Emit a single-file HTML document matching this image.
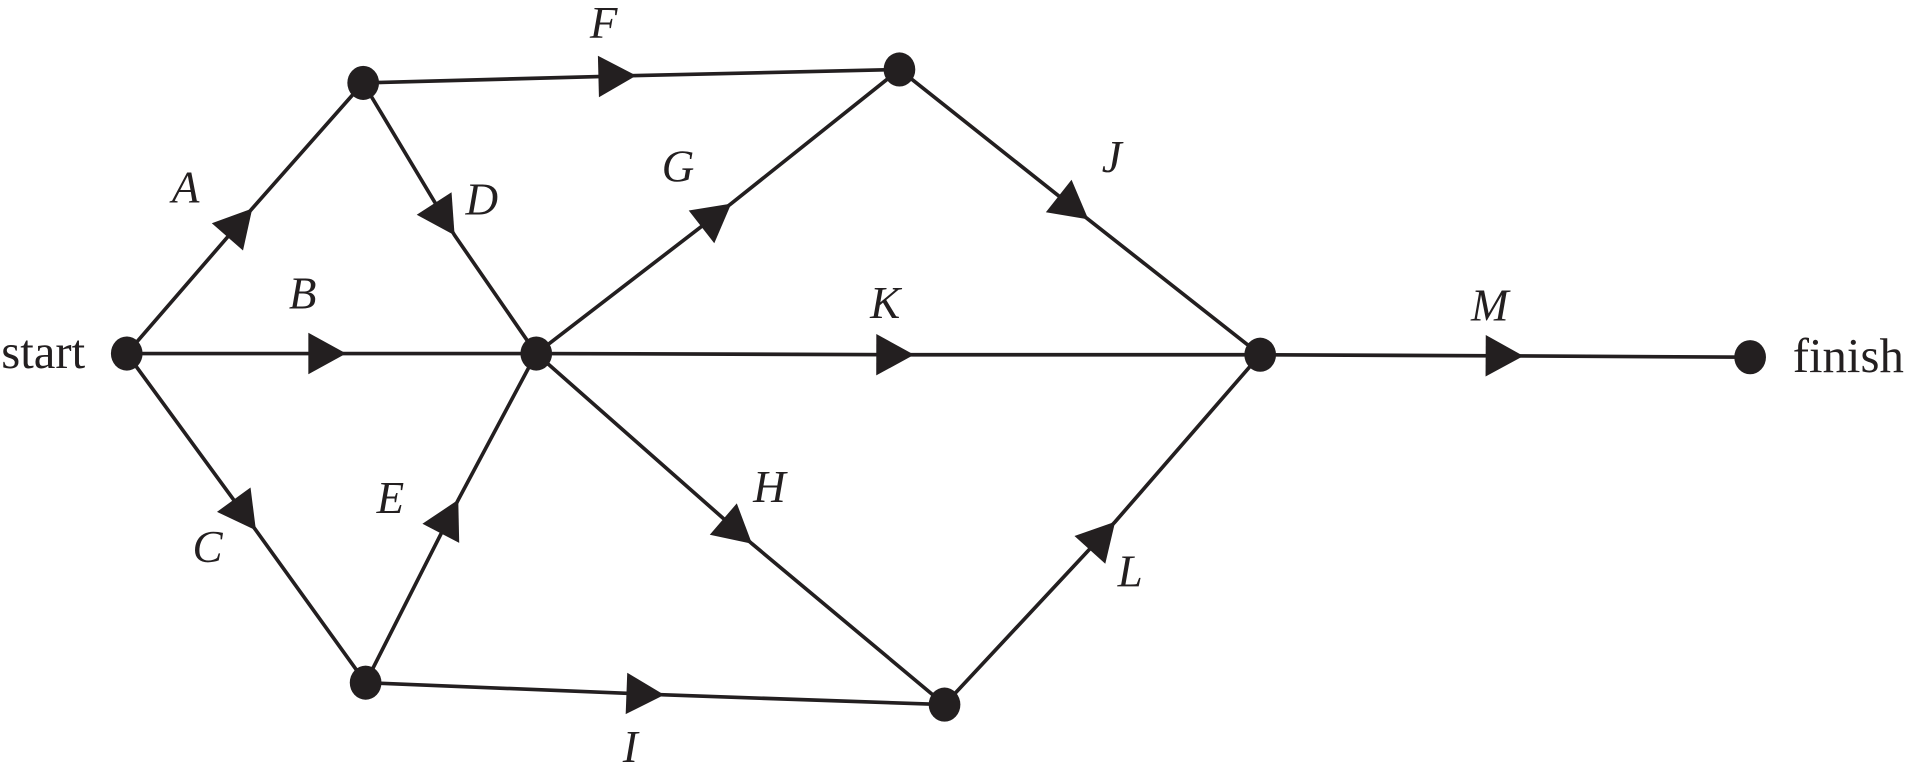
<!DOCTYPE html>
<html><head><meta charset="utf-8"><style>
html,body{margin:0;padding:0;background:#fff;}
svg{display:block;}
text{font-family:"Liberation Serif",serif;font-size:40px;fill:#231f20;}
.l{font-style:italic;font-size:37px;}
</style></head><body>
<svg width="1911" height="768" viewBox="0 0 1568 630" preserveAspectRatio="none">
<defs>
<marker id="a" markerUnits="userSpaceOnUse" markerWidth="40" markerHeight="40" viewBox="-35 -20 40 40" refX="0" refY="0" orient="auto">
<path d="M-31,-17 L0,0 L-31,17 z" fill="#231f20"/>
</marker>
</defs>
<g stroke="#231f20" stroke-width="3" fill="none" marker-mid="url(#a)">
<path d="M104,290 L207,171 L298,68"/>
<path d="M104,290 L284,290 L440,290"/>
<path d="M104,290 L210,435 L300,560"/>
<path d="M298,68 L373,193 L440,290"/>
<path d="M300,560 L376,410 L440,290"/>
<path d="M298,68 L522,62 L738,57"/>
<path d="M440,290 L600,167 L738,57"/>
<path d="M440,290 L617,446 L775,578"/>
<path d="M300,560 L545,570 L775,578"/>
<path d="M738,57 L893,180 L1034,291"/>
<path d="M440,290 L750,291 L1034,291"/>
<path d="M775,578 L915,428 L1034,291"/>
<path d="M1034,291 L1250,292 L1436,293"/>
</g>
<g fill="#231f20">
<ellipse cx="104" cy="290" rx="13" ry="14"/>
<ellipse cx="298" cy="68" rx="13" ry="14"/>
<ellipse cx="738" cy="57" rx="13" ry="14"/>
<ellipse cx="440" cy="290" rx="13" ry="14"/>
<ellipse cx="1034" cy="291" rx="13" ry="14"/>
<ellipse cx="1436" cy="293" rx="13" ry="14"/>
<ellipse cx="300" cy="560" rx="13" ry="14"/>
<ellipse cx="775" cy="578" rx="13" ry="14"/>
</g>
<text x="1" y="302">start</text>
<text x="1471" y="305">finish</text>
<text class="l" x="141" y="166">A</text>
<text class="l" x="237" y="253">B</text>
<text class="l" x="158" y="461">C</text>
<text class="l" x="382" y="176">D</text>
<text class="l" x="309" y="421">E</text>
<text class="l" x="484" y="31">F</text>
<text class="l" x="543" y="149">G</text>
<text class="l" x="618" y="412">H</text>
<text class="l" x="511" y="625">I</text>
<text class="l" x="904" y="141">J</text>
<text class="l" x="714" y="261">K</text>
<text class="l" x="917" y="481">L</text>
<text class="l" x="1207" y="263">M</text>
</svg>
</body></html>
